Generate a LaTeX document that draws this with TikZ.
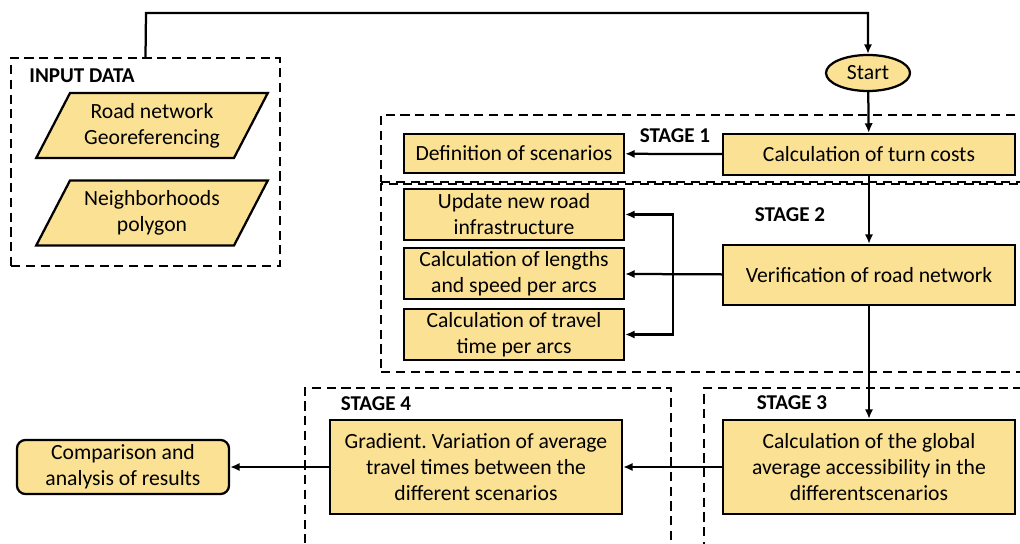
\documentclass[tikz,border=0pt]{standalone}
\usepackage{fontspec}
\setmainfont{Carlito}
\usetikzlibrary{shapes.geometric, arrows.meta, positioning, calc}
\definecolor{BoxYellow}{HTML}{FBE194}
\newlength\px
\setlength\px{0.025cm}
\frenchspacing

\begin{document}
\begin{tikzpicture}[
    x=\px, y=-\px,
    font=\fontsize{15.4}{18.5}\selectfont,
    proc/.style={draw, line width=1.6pt, fill=BoxYellow, align=center, inner sep=1pt},
    data/.style={draw, line width=1.6pt, fill=BoxYellow, align=center, trapezium, trapezium left angle=58, trapezium right angle=122, trapezium stretches=true, minimum width=232\px, minimum height=65\px, inner sep=0pt},
    term/.style={draw, line width=1.6pt, fill=BoxYellow, ellipse, minimum width=84\px, minimum height=36\px, inner sep=0pt},
    stage/.style={draw, dashed, line width=1.3pt, dash pattern=on 6.5pt off 4pt, inner sep=0pt},
    stagelabel/.style={font=\fontsize{15}{18}\selectfont\bfseries},
    arrow/.style={-{Latex[length=2.4mm, width=2.1mm]}, line width=1.6pt}
]
    \clip (0,0) rectangle (1020,544);
    % dashed frames
    \node[stage, minimum width=269\px, minimum height=208\px] (input) at (145.5,162) {};
    \node[stage, minimum width=660\px, minimum height=67\px] (stage1) at (711,148.5) {};
    \node[stage, minimum width=660\px, minimum height=188\px] (stage2) at (711,278) {};
    \node[stage, minimum width=340\px, minimum height=170\px] (stage3) at (874,473) {};
    \node[stage, minimum width=366\px, minimum height=170\px] (stage4) at (488,473) {};
    \node[stagelabel] at (82,76) {INPUT DATA};
    \node[stagelabel] at (675,136) {STAGE 1};
    \node[stagelabel] at (790,215) {STAGE 2};
    \node[stagelabel] at (792,403) {STAGE 3};
    \node[stagelabel] at (376,404) {STAGE 4};

    % input data
    \node[data] (road) at (152,125.5) {Road network\\Georeferencing};
    \node[data] (neigh) at (152,213) {Neighborhoods\\polygon};

    % main flow
    \node[term] (start) at (868,73) {Start};
    \node[proc, minimum width=292\px, minimum height=41\px] (turn) at (869,154.5) {Calculation of turn costs};
    \node[proc, minimum width=220\px, minimum height=39\px] (scen) at (514,153.5) {Definition of scenarios};
    \node[proc, minimum width=292\px, minimum height=60\px] (verif) at (869,275) {Verification of road network};
    \node[proc, minimum width=220\px, minimum height=51\px] (update) at (514,214.5) {Update new road\\infrastructure};
    \node[proc, minimum width=220\px, minimum height=51\px] (lengths) at (514,273.5) {Calculation of lengths\\and speed per arcs};
    \node[proc, minimum width=220\px, minimum height=51\px] (travel) at (514,334.5) {Calculation of travel\\time per arcs};
    \node[proc, minimum width=292\px, minimum height=94\px] (global) at (869,467) {Calculation of the global\\average accessibility in the\\differentscenarios};
    \node[proc, minimum width=292\px, minimum height=94\px] (grad) at (476,467) {Gradient. Variation of average\\travel times between the\\different scenarios};
    \node[proc, rounded corners=6pt, minimum width=212\px, minimum height=54\px] (comp) at (123,467) {Comparison and\\analysis of results};

    % connectors
    \coordinate (top) at (146,13);
    \coordinate (split) at (673,275);
    \draw[arrow] (input.north) -- (top) -| (start.north);
    \draw[arrow] (start) -- (turn);
    \draw[arrow] (turn) -- (scen);
    \draw[arrow] (turn) -- (verif);
    \draw[arrow] (verif) -- (lengths);
    \draw[arrow] (split) |- (update);
    \draw[arrow] (split) |- (travel);
    \draw[arrow] (verif) -- (global);
    \draw[arrow] (global) -- (grad);
    \draw[arrow] (grad) -- (comp);
\end{tikzpicture}
\end{document}
